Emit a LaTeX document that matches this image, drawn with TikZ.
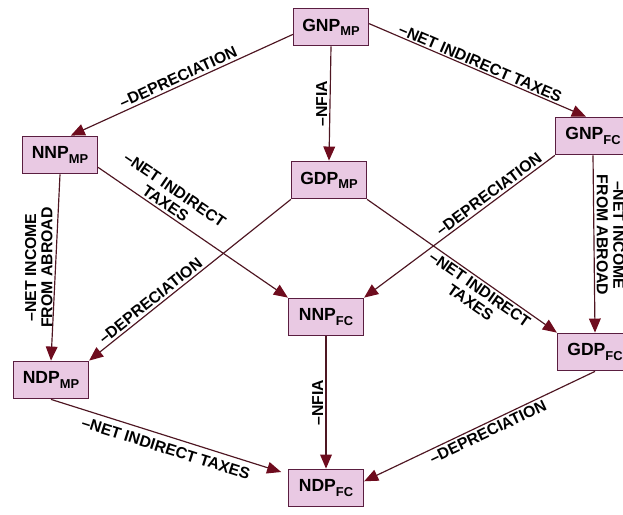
\documentclass[tikz,border=0pt]{standalone}
\usepackage{fontspec}
\setmainfont{Liberation Sans}
\usetikzlibrary{arrows.meta}

\definecolor{boxfill}{HTML}{E9C9E3}
\definecolor{boxline}{HTML}{5A1E40}
\definecolor{edgeline}{HTML}{4E1622}
\definecolor{tipred}{HTML}{6E0C1E}

\newcommand{\agg}[2]{#1\raisebox{-0.45ex}{\fontsize{11}{11}\selectfont #2}}

\begin{document}
\begin{tikzpicture}[x=0.03cm, y=-0.03cm,
    main/.style = {draw=boxline, line width=1.1pt, fill=boxfill, minimum width=64pt, minimum height=32pt, inner sep=4pt, font=\fontsize{15}{15}\selectfont\bfseries},
    flow/.style = {draw=edgeline, line width=1pt, -{Triangle[length=12pt, width=10pt, color=tipred, fill=tipred]}},
    lbl/.style = {font=\fontsize{13.5}{14}\selectfont\bfseries, inner sep=2pt, align=center}]
                \useasboundingbox (0,0) rectangle (623,515);

                \node[main] at (331, 27) (GNPMP) {\agg{GNP}{MP}};
                \node[main] at (60, 155) (NNPMP) {\agg{NNP}{MP}};
                \node[main] at (329, 180) (GDPMP) {\agg{GDP}{MP}};
                \node[main] at (593, 136) (GNPFC) {\agg{GNP}{FC}};
                \node[main] at (326, 317) (NNPFC) {\agg{NNP}{FC}};
                \node[main] at (51, 380) (NDPMP) {\agg{NDP}{MP}};
                \node[main] at (595, 352) (GDPFC) {\agg{GDP}{FC}};
                \node[main] at (326, 488) (NDPFC) {\agg{NDP}{FC}};

                \draw[flow] (GNPMP.191) -- node[lbl, sloped, above] {--DEPRECIATION} (NNPMP.61);
                \draw[flow] (GNPMP.south) -- node[lbl, rotate=90, anchor=south] {--NFIA} (GDPMP.north);
                \draw[flow] (GNPMP.5) -- node[lbl, sloped, above, inner sep=1pt] {--NET INDIRECT TAXES} (GNPFC.110);

                \draw[flow] (NNPMP.south) -- node[lbl, rotate=90, anchor=south] {--NET INCOME\\FROM ABROAD} (NDPMP.north);
                \draw[flow] (NNPMP.342) -- node[lbl, sloped, above, pos=0.33] {--NET INDIRECT\\TAXES} (NNPFC.north west);
                \draw[flow] (GDPMP.south west) -- node[lbl, sloped, above, pos=0.67] {--DEPRECIATION} (NDPMP.north east);
                \draw[flow] (GDPMP.south east) -- node[lbl, sloped, below, pos=0.62] {--NET INDIRECT\\TAXES} (GDPFC.north west);
                \draw[flow] (GNPFC.south west) -- node[lbl, sloped, above, pos=0.32] {--DEPRECIATION} (NNPFC.north east);
                \draw[flow] (GNPFC.south) -- node[lbl, rotate=-90, anchor=south, pos=0.45] {--NET INCOME\\FROM ABROAD} (GDPFC.north);

                \draw[flow] (NNPFC.south) -- node[lbl, rotate=90, anchor=south] {--NFIA} (NDPFC.north);
                \draw[flow, shorten >=6pt] (NDPMP.south) -- node[lbl, sloped, below=3pt] {--NET INDIRECT TAXES} (NDPFC.160);
                \draw[flow] (GDPFC.south) -- node[lbl, sloped, below, pos=0.48] {--DEPRECIATION} (NDPFC.10);
            \end{tikzpicture}
\end{document}
